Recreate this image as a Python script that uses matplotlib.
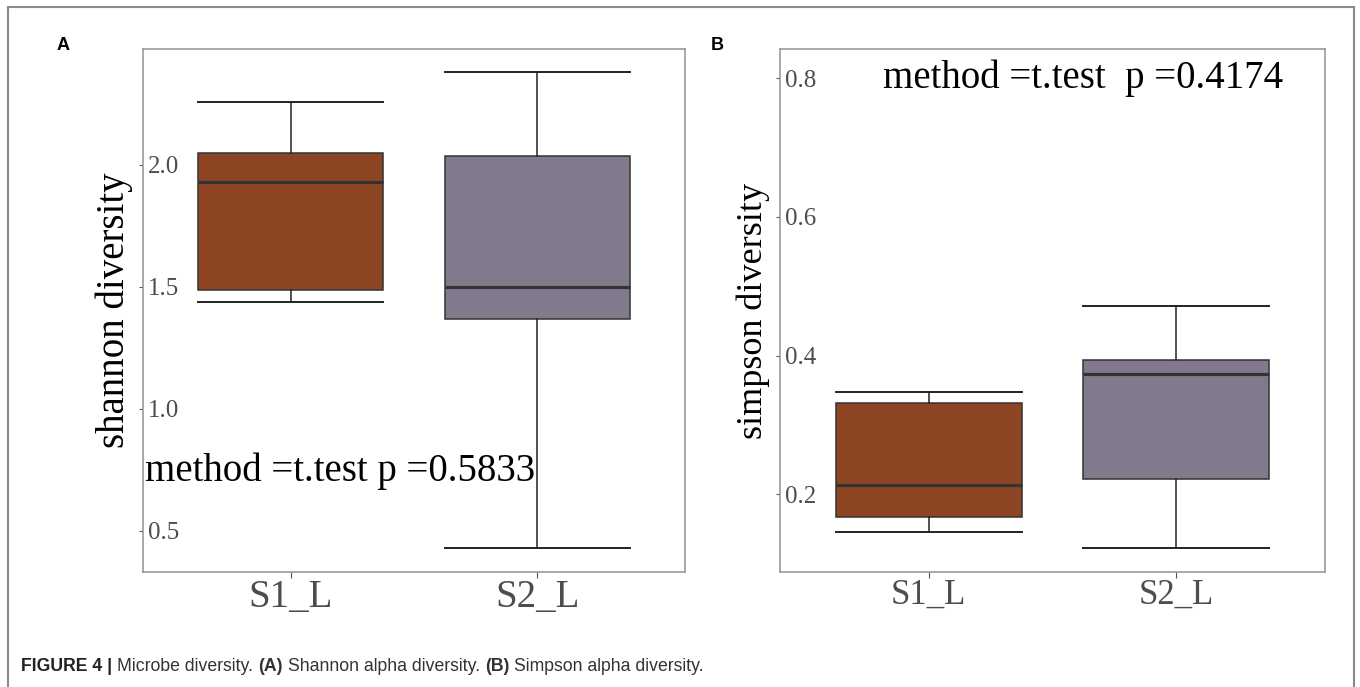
import matplotlib
matplotlib.use("Agg")
import matplotlib.pyplot as plt
from matplotlib.patches import Rectangle

# box statistics
groups = ["S1_L", "S2_L"]
fills = ["#8E4524", "#827A8C"]

shannon_low = [1.437, 0.429]
shannon_q1 = [1.486, 1.367]
shannon_med = [1.929, 1.500]
shannon_q3 = [2.050, 2.037]
shannon_high = [2.257, 2.380]
shannon_ticks = [0.5, 1.0, 1.5, 2.0]

simpson_low = [0.145, 0.122]
simpson_q1 = [0.167, 0.222]
simpson_med = [0.214, 0.373]
simpson_q3 = [0.332, 0.394]
simpson_high = [0.348, 0.472]
simpson_ticks = [0.2, 0.4, 0.6, 0.8]

serif = "Liberation Serif"
W, H = 1360, 687

fig = plt.figure(figsize=(W / 100, H / 100), dpi=100)


def stats(low, q1, med, q3, high):
    out = []
    for i in range(len(groups)):
        out.append(dict(whislo=low[i], q1=q1[i], med=med[i], q3=q3[i],
                        whishi=high[i], fliers=[], label=groups[i]))
    return out


def panel(rect, st, ticks, ylim, ylabel, ylsize, xtsize):
    ax = fig.add_axes(rect)
    bp = ax.bxp(st, positions=[1, 2], widths=0.75, capwidths=0.75,
                patch_artist=True, showfliers=False,
                boxprops=dict(edgecolor="#333333", linewidth=1.1),
                medianprops=dict(color="#333333", linewidth=2.3),
                whiskerprops=dict(color="#222222", linewidth=1.1),
                capprops=dict(color="#222222", linewidth=1.4))
    for patch, c in zip(bp["boxes"], fills):
        patch.set_facecolor(c)
    ax.set_xlim(0.4, 2.6)
    ax.set_ylim(*ylim)
    ax.set_yticks(ticks)
    ax.set_yticklabels(["%.1f" % t for t in ticks], family=serif,
                       size=18, color="#4D4D4D")
    # tick labels sit inside the panel
    for lbl in ax.get_yticklabels():
        lbl.set_horizontalalignment("left")
    ax.set_xticks([1, 2])
    ax.set_xticklabels(groups, family=serif, size=xtsize, color="#4D4D4D")
    ax.tick_params(axis="y", length=3, width=0.8, color="#555555", pad=-6.5)
    ax.tick_params(axis="x", length=4, width=0.8, color="#555555", pad=1)
    for s in ax.spines.values():
        s.set_color("#999999")
        s.set_linewidth(1.2)
    ax.set_ylabel(ylabel, family=serif, size=ylsize, color="black", labelpad=4)
    return ax


axA = panel([143 / W, 1 - 572 / H, 542 / W, 523 / H],
            stats(shannon_low, shannon_q1, shannon_med, shannon_q3, shannon_high),
            shannon_ticks, (0.332, 2.474), "shannon diversity", 28, 28)
axA.text(0.41, 0.705, "method =t.test p =0.5833", family=serif, size=28,
         ha="left", va="baseline")

axB = panel([780 / W, 1 - 572 / H, 545 / W, 523 / H],
            stats(simpson_low, simpson_q1, simpson_med, simpson_q3, simpson_high),
            simpson_ticks, (0.088, 0.842), "simpson diversity", 26, 25)
axB.text(1.625, 0.786, "method =t.test  p =0.4174", family=serif, size=28,
         ha="center", va="baseline")

fig.text(63 / W, 1 - 46 / H, "A", family="Liberation Sans", weight="bold",
         size=13, ha="center", va="center")
fig.text(717 / W, 1 - 46 / H, "B", family="Liberation Sans", weight="bold",
         size=13, ha="center", va="center")

# outer frame
fig.patches.append(Rectangle((8 / W, -0.05), 1346 / W, 1.05 - 7 / H,
                             transform=fig.transFigure, fill=False,
                             edgecolor="#8a8a8a", linewidth=1.5))

# caption, bold and normal pieces chained one after another
cap_font = "Liberation Sans"
pieces = [("FIGURE 4 |", "bold"), ("Microbe diversity.", "normal"),
          ("(A)", "bold"), ("Shannon alpha diversity.", "normal"),
          ("(B)", "bold"), ("Simpson alpha diversity.", "normal")]
prev = fig.text(21 / W, 1 - 675 / H, pieces[0][0], family=cap_font,
                weight=pieces[0][1], size=12.7, color="#222222", va="bottom")
for txt, wt in pieces[1:]:
    prev = fig.add_artist(plt.Annotation(
        txt, xy=(1, 0), xycoords=prev, xytext=(3.6, 0),
        textcoords="offset points", family=cap_font, weight=wt, size=12.7,
        color="#333333", va="bottom", ha="left"))

fig.savefig("out.png", dpi=100)
